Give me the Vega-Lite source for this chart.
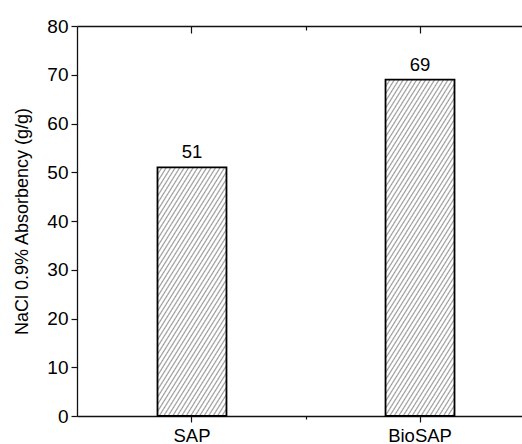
{
  "$schema": "https://vega.github.io/schema/vega-lite/v6.json",
  "width": 445,
  "height": 390,
  "autosize": {"type": "none"},
  "padding": {"left": 77, "top": 26, "right": 0, "bottom": 28},
  "background": "white",
  "config": {
    "font": "Liberation Sans",
    "view": {"stroke": null},
    "axis": {"grid": false, "domainColor": "#111", "domainWidth": 1.3, "tickColor": "#111", "tickWidth": 1.2, "labelColor": "#000", "titleColor": "#000", "labelFont": "Liberation Sans", "titleFont": "Liberation Sans"}
  },
  "data": {"values": [
    {"sample": "SAP", "value": 51},
    {"sample": "BioSAP", "value": 69}
  ]},
  "resolve": {"axis": {"x": "independent"}},
  "layer": [
    {
      "mark": {"type": "bar", "stroke": "#000", "strokeWidth": 1.8},
      "encoding": {
        "x": {"field": "sample", "type": "nominal", "sort": null,
          "scale": {"type": "band", "domain": ["SAP", " ", "BioSAP"], "range": [0, 458], "paddingInner": 0.395, "paddingOuter": 0.706},
          "axis": {"orient": "bottom", "title": null, "labelAngle": 0, "labelFontSize": 18.5, "labelPadding": 4,
            "tickSize": {"condition": {"test": "datum.value === ' '", "value": 3}, "value": 6}}},
        "y": {"field": "value", "type": "quantitative",
          "scale": {"domain": [0, 80], "nice": false},
          "axis": {"title": "NaCl 0.9% Absorbency (g/g)", "titleFontSize": 18, "titleFontWeight": "normal", "titlePadding": 15,
            "values": [0, 5, 10, 15, 20, 25, 30, 35, 40, 45, 50, 55, 60, 65, 70, 75, 80],
            "labelExpr": "datum.value % 10 === 0 ? datum.label : ''",
            "labelFontSize": 19, "labelPadding": 3,
            "tickSize": {"condition": {"test": "datum.value % 10 === 0", "value": 6}, "value": 4}}},
        "fill": {
          "condition": {"test": "datum.sample === 'SAP'", "value": {
            "gradient": "linear", "x1": 0, "y1": 0, "x2": 0.536, "y2": 1.206,
            "stops": [
{"offset":0,"color":"#999"},{"offset":0.006,"color":"#fff"},{"offset":0.014,"color":"#fff"},
{"offset":0.02,"color":"#999"},{"offset":0.026,"color":"#fff"},{"offset":0.034,"color":"#fff"},
{"offset":0.04,"color":"#999"},{"offset":0.046,"color":"#fff"},{"offset":0.054,"color":"#fff"},
{"offset":0.06,"color":"#999"},{"offset":0.066,"color":"#fff"},{"offset":0.074,"color":"#fff"},
{"offset":0.08,"color":"#999"},{"offset":0.086,"color":"#fff"},{"offset":0.094,"color":"#fff"},
{"offset":0.1,"color":"#999"},{"offset":0.106,"color":"#fff"},{"offset":0.114,"color":"#fff"},
{"offset":0.12,"color":"#999"},{"offset":0.126,"color":"#fff"},{"offset":0.134,"color":"#fff"},
{"offset":0.14,"color":"#999"},{"offset":0.146,"color":"#fff"},{"offset":0.154,"color":"#fff"},
{"offset":0.16,"color":"#999"},{"offset":0.166,"color":"#fff"},{"offset":0.174,"color":"#fff"},
{"offset":0.18,"color":"#999"},{"offset":0.186,"color":"#fff"},{"offset":0.194,"color":"#fff"},
{"offset":0.2,"color":"#999"},{"offset":0.206,"color":"#fff"},{"offset":0.214,"color":"#fff"},
{"offset":0.22,"color":"#999"},{"offset":0.226,"color":"#fff"},{"offset":0.234,"color":"#fff"},
{"offset":0.24,"color":"#999"},{"offset":0.246,"color":"#fff"},{"offset":0.254,"color":"#fff"},
{"offset":0.26,"color":"#999"},{"offset":0.266,"color":"#fff"},{"offset":0.274,"color":"#fff"},
{"offset":0.28,"color":"#999"},{"offset":0.286,"color":"#fff"},{"offset":0.294,"color":"#fff"},
{"offset":0.3,"color":"#999"},{"offset":0.306,"color":"#fff"},{"offset":0.314,"color":"#fff"},
{"offset":0.32,"color":"#999"},{"offset":0.326,"color":"#fff"},{"offset":0.334,"color":"#fff"},
{"offset":0.34,"color":"#999"},{"offset":0.346,"color":"#fff"},{"offset":0.354,"color":"#fff"},
{"offset":0.36,"color":"#999"},{"offset":0.366,"color":"#fff"},{"offset":0.374,"color":"#fff"},
{"offset":0.38,"color":"#999"},{"offset":0.386,"color":"#fff"},{"offset":0.394,"color":"#fff"},
{"offset":0.4,"color":"#999"},{"offset":0.406,"color":"#fff"},{"offset":0.414,"color":"#fff"},
{"offset":0.42,"color":"#999"},{"offset":0.426,"color":"#fff"},{"offset":0.434,"color":"#fff"},
{"offset":0.44,"color":"#999"},{"offset":0.446,"color":"#fff"},{"offset":0.454,"color":"#fff"},
{"offset":0.46,"color":"#999"},{"offset":0.466,"color":"#fff"},{"offset":0.474,"color":"#fff"},
{"offset":0.48,"color":"#999"},{"offset":0.486,"color":"#fff"},{"offset":0.494,"color":"#fff"},
{"offset":0.5,"color":"#999"},{"offset":0.506,"color":"#fff"},{"offset":0.514,"color":"#fff"},
{"offset":0.52,"color":"#999"},{"offset":0.526,"color":"#fff"},{"offset":0.534,"color":"#fff"},
{"offset":0.54,"color":"#999"},{"offset":0.546,"color":"#fff"},{"offset":0.554,"color":"#fff"},
{"offset":0.56,"color":"#999"},{"offset":0.566,"color":"#fff"},{"offset":0.574,"color":"#fff"},
{"offset":0.58,"color":"#999"},{"offset":0.586,"color":"#fff"},{"offset":0.594,"color":"#fff"},
{"offset":0.6,"color":"#999"},{"offset":0.606,"color":"#fff"},{"offset":0.614,"color":"#fff"},
{"offset":0.62,"color":"#999"},{"offset":0.626,"color":"#fff"},{"offset":0.634,"color":"#fff"},
{"offset":0.64,"color":"#999"},{"offset":0.646,"color":"#fff"},{"offset":0.654,"color":"#fff"},
{"offset":0.66,"color":"#999"},{"offset":0.666,"color":"#fff"},{"offset":0.674,"color":"#fff"},
{"offset":0.68,"color":"#999"},{"offset":0.686,"color":"#fff"},{"offset":0.694,"color":"#fff"},
{"offset":0.7,"color":"#999"},{"offset":0.706,"color":"#fff"},{"offset":0.714,"color":"#fff"},
{"offset":0.72,"color":"#999"},{"offset":0.726,"color":"#fff"},{"offset":0.734,"color":"#fff"},
{"offset":0.74,"color":"#999"},{"offset":0.746,"color":"#fff"},{"offset":0.754,"color":"#fff"},
{"offset":0.76,"color":"#999"},{"offset":0.766,"color":"#fff"},{"offset":0.774,"color":"#fff"},
{"offset":0.78,"color":"#999"},{"offset":0.786,"color":"#fff"},{"offset":0.794,"color":"#fff"},
{"offset":0.8,"color":"#999"},{"offset":0.806,"color":"#fff"},{"offset":0.814,"color":"#fff"},
{"offset":0.82,"color":"#999"},{"offset":0.826,"color":"#fff"},{"offset":0.834,"color":"#fff"},
{"offset":0.84,"color":"#999"},{"offset":0.846,"color":"#fff"},{"offset":0.854,"color":"#fff"},
{"offset":0.86,"color":"#999"},{"offset":0.866,"color":"#fff"},{"offset":0.874,"color":"#fff"},
{"offset":0.88,"color":"#999"},{"offset":0.886,"color":"#fff"},{"offset":0.894,"color":"#fff"},
{"offset":0.9,"color":"#999"},{"offset":0.906,"color":"#fff"},{"offset":0.914,"color":"#fff"},
{"offset":0.92,"color":"#999"},{"offset":0.926,"color":"#fff"},{"offset":0.934,"color":"#fff"},
{"offset":0.94,"color":"#999"},{"offset":0.946,"color":"#fff"},{"offset":0.954,"color":"#fff"},
{"offset":0.96,"color":"#999"},{"offset":0.966,"color":"#fff"},{"offset":0.974,"color":"#fff"},
{"offset":0.98,"color":"#999"},{"offset":0.986,"color":"#fff"},{"offset":0.994,"color":"#fff"},
{"offset":1,"color":"#999"}
            ]}},
          "value": {
            "gradient": "linear", "x1": 0, "y1": 0, "x2": 0.393, "y2": 1.199,
            "stops": [
{"offset":0,"color":"#999"},{"offset":0.0048,"color":"#fff"},{"offset":0.0112,"color":"#fff"},
{"offset":0.016,"color":"#999"},{"offset":0.0208,"color":"#fff"},{"offset":0.0272,"color":"#fff"},
{"offset":0.032,"color":"#999"},{"offset":0.0368,"color":"#fff"},{"offset":0.0432,"color":"#fff"},
{"offset":0.048,"color":"#999"},{"offset":0.0528,"color":"#fff"},{"offset":0.0592,"color":"#fff"},
{"offset":0.064,"color":"#999"},{"offset":0.0688,"color":"#fff"},{"offset":0.0752,"color":"#fff"},
{"offset":0.08,"color":"#999"},{"offset":0.0848,"color":"#fff"},{"offset":0.0912,"color":"#fff"},
{"offset":0.096,"color":"#999"},{"offset":0.1008,"color":"#fff"},{"offset":0.1072,"color":"#fff"},
{"offset":0.112,"color":"#999"},{"offset":0.1168,"color":"#fff"},{"offset":0.1232,"color":"#fff"},
{"offset":0.128,"color":"#999"},{"offset":0.1328,"color":"#fff"},{"offset":0.1392,"color":"#fff"},
{"offset":0.144,"color":"#999"},{"offset":0.1488,"color":"#fff"},{"offset":0.1552,"color":"#fff"},
{"offset":0.16,"color":"#999"},{"offset":0.1648,"color":"#fff"},{"offset":0.1712,"color":"#fff"},
{"offset":0.176,"color":"#999"},{"offset":0.1808,"color":"#fff"},{"offset":0.1872,"color":"#fff"},
{"offset":0.192,"color":"#999"},{"offset":0.1968,"color":"#fff"},{"offset":0.2032,"color":"#fff"},
{"offset":0.208,"color":"#999"},{"offset":0.2128,"color":"#fff"},{"offset":0.2192,"color":"#fff"},
{"offset":0.224,"color":"#999"},{"offset":0.2288,"color":"#fff"},{"offset":0.2352,"color":"#fff"},
{"offset":0.24,"color":"#999"},{"offset":0.2448,"color":"#fff"},{"offset":0.2512,"color":"#fff"},
{"offset":0.256,"color":"#999"},{"offset":0.2608,"color":"#fff"},{"offset":0.2672,"color":"#fff"},
{"offset":0.272,"color":"#999"},{"offset":0.2768,"color":"#fff"},{"offset":0.2832,"color":"#fff"},
{"offset":0.288,"color":"#999"},{"offset":0.2928,"color":"#fff"},{"offset":0.2992,"color":"#fff"},
{"offset":0.304,"color":"#999"},{"offset":0.3088,"color":"#fff"},{"offset":0.3152,"color":"#fff"},
{"offset":0.32,"color":"#999"},{"offset":0.3248,"color":"#fff"},{"offset":0.3312,"color":"#fff"},
{"offset":0.336,"color":"#999"},{"offset":0.3408,"color":"#fff"},{"offset":0.3472,"color":"#fff"},
{"offset":0.352,"color":"#999"},{"offset":0.3568,"color":"#fff"},{"offset":0.3632,"color":"#fff"},
{"offset":0.368,"color":"#999"},{"offset":0.3728,"color":"#fff"},{"offset":0.3792,"color":"#fff"},
{"offset":0.384,"color":"#999"},{"offset":0.3888,"color":"#fff"},{"offset":0.3952,"color":"#fff"},
{"offset":0.4,"color":"#999"},{"offset":0.4048,"color":"#fff"},{"offset":0.4112,"color":"#fff"},
{"offset":0.416,"color":"#999"},{"offset":0.4208,"color":"#fff"},{"offset":0.4272,"color":"#fff"},
{"offset":0.432,"color":"#999"},{"offset":0.4368,"color":"#fff"},{"offset":0.4432,"color":"#fff"},
{"offset":0.448,"color":"#999"},{"offset":0.4528,"color":"#fff"},{"offset":0.4592,"color":"#fff"},
{"offset":0.464,"color":"#999"},{"offset":0.4688,"color":"#fff"},{"offset":0.4752,"color":"#fff"},
{"offset":0.48,"color":"#999"},{"offset":0.4848,"color":"#fff"},{"offset":0.4912,"color":"#fff"},
{"offset":0.496,"color":"#999"},{"offset":0.5008,"color":"#fff"},{"offset":0.5072,"color":"#fff"},
{"offset":0.512,"color":"#999"},{"offset":0.5168,"color":"#fff"},{"offset":0.5232,"color":"#fff"},
{"offset":0.528,"color":"#999"},{"offset":0.5328,"color":"#fff"},{"offset":0.5392,"color":"#fff"},
{"offset":0.544,"color":"#999"},{"offset":0.5488,"color":"#fff"},{"offset":0.5552,"color":"#fff"},
{"offset":0.56,"color":"#999"},{"offset":0.5648,"color":"#fff"},{"offset":0.5712,"color":"#fff"},
{"offset":0.576,"color":"#999"},{"offset":0.5808,"color":"#fff"},{"offset":0.5872,"color":"#fff"},
{"offset":0.592,"color":"#999"},{"offset":0.5968,"color":"#fff"},{"offset":0.6032,"color":"#fff"},
{"offset":0.608,"color":"#999"},{"offset":0.6128,"color":"#fff"},{"offset":0.6192,"color":"#fff"},
{"offset":0.624,"color":"#999"},{"offset":0.6288,"color":"#fff"},{"offset":0.6352,"color":"#fff"},
{"offset":0.64,"color":"#999"},{"offset":0.6448,"color":"#fff"},{"offset":0.6512,"color":"#fff"},
{"offset":0.656,"color":"#999"},{"offset":0.6608,"color":"#fff"},{"offset":0.6672,"color":"#fff"},
{"offset":0.672,"color":"#999"},{"offset":0.6768,"color":"#fff"},{"offset":0.6832,"color":"#fff"},
{"offset":0.688,"color":"#999"},{"offset":0.6928,"color":"#fff"},{"offset":0.6992,"color":"#fff"},
{"offset":0.704,"color":"#999"},{"offset":0.7088,"color":"#fff"},{"offset":0.7152,"color":"#fff"},
{"offset":0.72,"color":"#999"},{"offset":0.7248,"color":"#fff"},{"offset":0.7312,"color":"#fff"},
{"offset":0.736,"color":"#999"},{"offset":0.7408,"color":"#fff"},{"offset":0.7472,"color":"#fff"},
{"offset":0.752,"color":"#999"},{"offset":0.7568,"color":"#fff"},{"offset":0.7632,"color":"#fff"},
{"offset":0.768,"color":"#999"},{"offset":0.7728,"color":"#fff"},{"offset":0.7792,"color":"#fff"},
{"offset":0.784,"color":"#999"},{"offset":0.7888,"color":"#fff"},{"offset":0.7952,"color":"#fff"},
{"offset":0.8,"color":"#999"},{"offset":0.8048,"color":"#fff"},{"offset":0.8112,"color":"#fff"},
{"offset":0.816,"color":"#999"},{"offset":0.8208,"color":"#fff"},{"offset":0.8272,"color":"#fff"},
{"offset":0.832,"color":"#999"},{"offset":0.8368,"color":"#fff"},{"offset":0.8432,"color":"#fff"},
{"offset":0.848,"color":"#999"},{"offset":0.8528,"color":"#fff"},{"offset":0.8592,"color":"#fff"},
{"offset":0.864,"color":"#999"},{"offset":0.8688,"color":"#fff"},{"offset":0.8752,"color":"#fff"},
{"offset":0.88,"color":"#999"},{"offset":0.8848,"color":"#fff"},{"offset":0.8912,"color":"#fff"},
{"offset":0.896,"color":"#999"},{"offset":0.9008,"color":"#fff"},{"offset":0.9072,"color":"#fff"},
{"offset":0.912,"color":"#999"},{"offset":0.9168,"color":"#fff"},{"offset":0.9232,"color":"#fff"},
{"offset":0.928,"color":"#999"},{"offset":0.9328,"color":"#fff"},{"offset":0.9392,"color":"#fff"},
{"offset":0.944,"color":"#999"},{"offset":0.9488,"color":"#fff"},{"offset":0.9552,"color":"#fff"},
{"offset":0.96,"color":"#999"},{"offset":0.9648,"color":"#fff"},{"offset":0.9712,"color":"#fff"},
{"offset":0.976,"color":"#999"},{"offset":0.9808,"color":"#fff"},{"offset":0.9872,"color":"#fff"},
{"offset":0.992,"color":"#999"},{"offset":0.9968,"color":"#fff"},{"offset":1,"color":"#fff"}
            ]}
        }
      }
    },
    {
      "mark": {"type": "text", "fontSize": 18.5, "color": "#000", "baseline": "alphabetic", "dy": -9},
      "encoding": {
        "x": {"field": "sample", "type": "nominal", "sort": null,
          "axis": {"orient": "top", "title": null, "labels": false,
            "tickSize": {"condition": {"test": "datum.value === ' '", "value": -4}, "value": -7}}},
        "y": {"field": "value", "type": "quantitative", "title": "NaCl 0.9% Absorbency (g/g)"},
        "text": {"field": "value", "type": "quantitative"}
      }
    }
  ]
}
